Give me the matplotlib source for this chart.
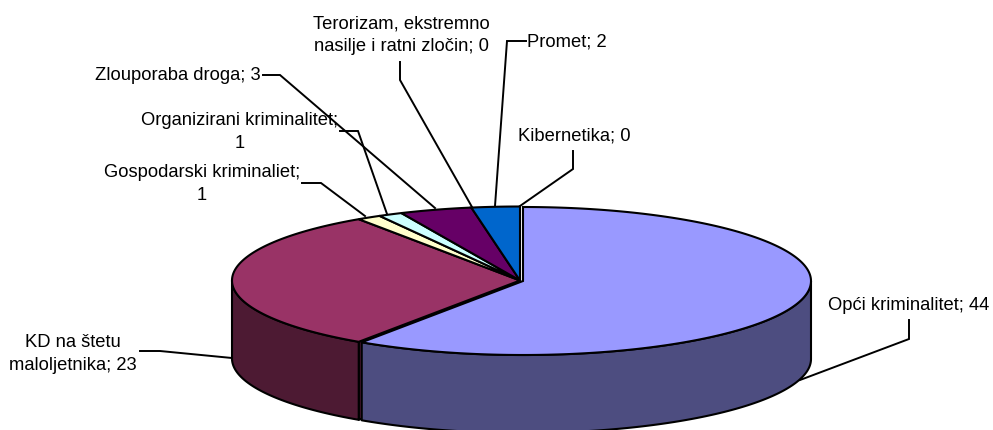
import numpy as np
import matplotlib
matplotlib.use("Agg")
import matplotlib.pyplot as plt
from matplotlib.patches import Polygon

plt.rcParams['font.family'] = ['Liberation Sans', 'DejaVu Sans']

categories = ["Opći kriminalitet", "KD na štetu maloljetnika", "Gospodarski kriminaliet",
              "Organizirani kriminalitet", "Zlouporaba droga",
              "Terorizam, ekstremno nasilje i ratni zločin", "Promet", "Kibernetika"]
values = [44, 23, 1, 1, 3, 0, 2, 0]
top_colors = ["#9999FF", "#993366", "#FFFFCC", "#CCFFFF", "#660066", "#FF8080", "#0066CC", "#CCCCFF"]
side_colors = ["#4D4D80", "#4D1A33", "#808066", "#668080", "#330033", "#804040", "#003366", "#666680"]

# pie geometry, in picture pixels
CX, CY, RX, RY, DEPTH = 520.0, 280.5, 288.0, 74.0, 78.0
EXPLODE = {0: (3.0, 0.5)}

fig = plt.figure(figsize=(9.93, 4.30), dpi=100)
ax = fig.add_axes([0, 0, 1, 1])
ax.set_xlim(0, 993)
ax.set_ylim(430, 0)
ax.axis("off")

fracs = np.cumsum([0] + values) / sum(values) * 2 * np.pi  # clockwise from 12 o'clock


def arc(a0, a1, dx=0.0, dy=0.0, n=200):
    t = np.linspace(a0, a1, n)
    return np.column_stack([CX + dx + RX * np.sin(t), CY + dy - RY * np.cos(t)])


LW = 1.5

# cut face of KD slice, visible through the gap left by the pulled-out slice
a = fracs[1]
rim = arc(a, a, n=1)[0]
ax.add_patch(Polygon([rim, (CX, CY), (CX, CY + DEPTH), rim + (0, DEPTH)],
                     closed=True, fc=side_colors[1], ec="black", lw=LW, joinstyle="round", zorder=1))

# outer walls of the front-facing slices
for i in range(len(values)):
    if values[i] == 0:
        continue
    a0, a1 = max(fracs[i], np.pi / 2), min(fracs[i + 1], 3 * np.pi / 2)
    if a1 <= a0:
        continue
    dx, dy = EXPLODE.get(i, (0, 0))
    top = arc(a0, a1, dx, dy)
    bottom = top[::-1] + (0, DEPTH)
    ax.add_patch(Polygon(np.vstack([top, bottom]), closed=True, fc=side_colors[i],
                         ec="black", lw=LW, joinstyle="round", zorder=2 + (i == 0)))

# top faces
for i in [1, 2, 3, 4, 5, 6, 7, 0]:
    if values[i] == 0:
        continue
    dx, dy = EXPLODE.get(i, (0, 0))
    pts = np.vstack([[(CX + dx, CY + dy)], arc(fracs[i], fracs[i + 1], dx, dy)])
    ax.add_patch(Polygon(pts, closed=True, fc=top_colors[i], ec="black", lw=LW,
                         joinstyle="miter", zorder=4 + (i == 0)))

# data labels and their leader lines, one per category
labels = [
    ("Opći kriminalitet; 44", 909, 306),
    ("KD na štetu\nmaloljetnika; 23", 73, 354),
    ("Gospodarski kriminaliet;\n1", 202, 184),
    ("Organizirani kriminalitet;\n1", 240, 132),
    ("Zlouporaba droga; 3", 178, 76),
    ("Terorizam, ekstremno\nnasilje i ratni zločin; 0", 401, 35),
    ("Promet; 2", 567, 42),
    ("Kibernetika; 0", 574, 136),
]
leaders = [
    [(909, 320), (909, 339), (800, 380)],
    [(140, 351), (160, 351), (232, 358)],
    [(302, 183), (321, 183), (365, 216)],
    [(340, 131), (358, 131), (387, 214)],
    [(263, 75), (280, 75), (435, 208)],
    [(400, 62), (400, 80), (472, 207)],
    [(526, 41), (507, 41), (495, 206)],
    [(573, 151), (573, 169), (520, 206)],
]
for (txt, x, y), path in zip(labels, leaders):
    ax.text(x, y, txt, ha="center", va="center", fontsize=13.2, color="black",
            linespacing=1.45, zorder=7, multialignment="center")
    xs, ys = zip(*path)
    ax.plot(xs, ys, color="black", lw=1.4, solid_joinstyle="miter", zorder=6)

fig.savefig("out.png", dpi=100, facecolor="white")
